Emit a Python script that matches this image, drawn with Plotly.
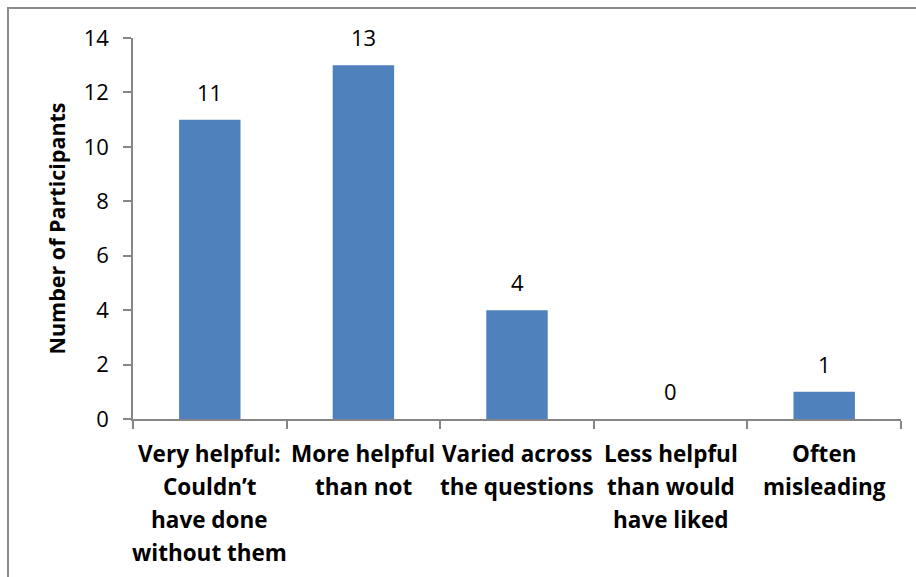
import plotly.graph_objects as go

categories = [
    "Very helpful:\nCouldn’t\nhave done\nwithout them",
    "More helpful\nthan not",
    "Varied across\nthe questions",
    "Less helpful\nthan would\nhave liked",
    "Often\nmisleading",
]
values = [11, 13, 4, 0, 1]
y_title = "Number of Participants"
y_ticks = [0, 2, 4, 6, 8, 10, 12, 14]

FONT = "Open Sans"
AXIS = "#868686"
BAR = "#4F81BD"

keys = [c.replace("\n", " ") for c in categories]

fig = go.Figure()
fig.add_trace(go.Bar(
    x=keys, y=values,
    marker=dict(color=BAR, line=dict(width=0)),
    hoverinfo="skip",
))

annotations = []
# value labels
for k, v in zip(keys, values):
    annotations.append(dict(
        x=k, y=v, xref="x", yref="y", text=str(v), showarrow=False,
        yanchor="middle", yshift=28,
        font=dict(family=FONT, size=22, color="#000000"),
    ))
# category labels, one line per annotation
for k, c in zip(keys, categories):
    for j, line in enumerate(c.split("\n")):
        annotations.append(dict(
            x=k, y=0, xref="x", yref="paper", text=line, showarrow=False,
            yanchor="middle", yshift=-(34 + 33 * j),
            font=dict(family=FONT, size=22.5, color="#000000", weight="bold"),
        ))

W, H = 916, 577
L, R, T, B = 133, 15, 38, 158
pw, ph = W - L - R, H - T - B

def px_x(p):
    return (p - L) / pw

def px_y(p):
    return (H - B - p) / ph

fig.update_layout(
    width=W, height=H,
    margin=dict(l=L, r=R, t=T, b=B),
    paper_bgcolor="white", plot_bgcolor="white",
    showlegend=False,
    bargap=0.6,
    font=dict(family=FONT, size=22, color="#000000"),
    annotations=annotations,
    shapes=[dict(
        type="rect", xref="paper", yref="paper",
        x0=px_x(8), x1=px_x(930), y0=px_y(590), y1=px_y(8),
        line=dict(color="#8C8C8C", width=2), fillcolor="rgba(0,0,0,0)",
        layer="below",
    )],
    xaxis=dict(
        type="category", showticklabels=False, tickson="boundaries",
        ticks="outside", ticklen=8, tickwidth=1.5, tickcolor=AXIS,
        showline=True, linecolor=AXIS, linewidth=1.5,
        showgrid=False, zeroline=False, range=[-0.5, 4.5],
    ),
    yaxis=dict(
        range=[0, 14], tickvals=y_ticks, ticktext=[str(t) for t in y_ticks],
        ticks="outside", ticklen=8, tickwidth=1.5, tickcolor=AXIS,
        showline=True, linecolor=AXIS, linewidth=1.5,
        showgrid=False, zeroline=False,
        tickfont=dict(family=FONT, size=22, color="#000000"),
        ticklabelstandoff=10,
        title=dict(text=y_title, standoff=12,
                   font=dict(family=FONT, size=21.5, color="#000000", weight="bold")),
    ),
)

fig.write_html("out.html")
